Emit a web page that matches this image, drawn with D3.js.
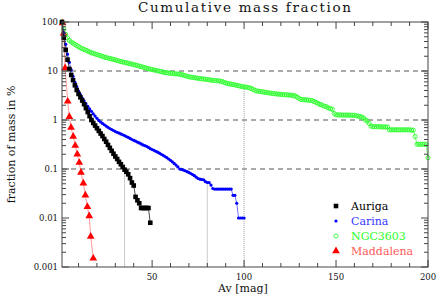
<!DOCTYPE html>
<meta charset="utf-8">
<script src="https://cdn.jsdelivr.net/npm/d3@7"></script>
<style>
body { margin: 0; background: #fff; }
text { font-family: "DejaVu Serif", serif; fill: #111; }
.grid { stroke: #555; stroke-width: 1; stroke-dasharray: 5,4; fill: none; }
.cut { stroke: #999; stroke-width: 1; stroke-dasharray: 1,1; fill: none; }
</style>
<body>
<script>

// fraction of mass (%) above Av, one value per magnitude starting at Av = 1
var auriga = [100,48,27,17,11,8.3,6.5,5.1,4.1,3.4,
  2.9,2.5,2.1,1.75,1.45,1.2,1.0,0.87,0.77,0.68,
  0.6,0.53,0.47,0.41,0.36,0.31,0.27,0.235,0.205,0.18,
  0.16,0.14,0.125,0.11,0.097,0.088,0.078,0.065,0.053,0.046,
  0.027,0.023,0.02,0.016,0.016,0.016,0.016,0.016,0.008];

var carina = [100,60,35,22,15,10.5,7.8,5.9,4.8,3.9,
  3.3,2.8,2.45,2.15,1.9,1.68,1.5,1.33,1.2,1.08,
  0.98,0.91,0.85,0.8,0.75,0.71,0.67,0.64,0.61,0.58,
  0.56,0.54,0.52,0.5,0.48,0.46,0.44,0.42,0.4,0.385,
  0.37,0.355,0.34,0.325,0.31,0.3,0.29,0.275,0.26,0.25,
  0.24,0.23,0.22,0.21,0.2,0.19,0.18,0.17,0.16,0.15,
  0.14,0.13,0.12,0.11,0.1,0.098,0.095,0.092,0.088,0.085,
  0.081,0.077,0.073,0.068,0.064,0.062,0.061,0.06,0.055,0.053,
  0.053,0.047,0.04,0.039,0.039,0.039,0.039,0.039,0.039,0.039,
  0.039,0.039,0.039,0.029,0.029,0.02,0.01,0.01,0.01,0.01];

var ngc3603 = [100,72,56,47,42,39,37,35,33,31.5,
  30,28.5,27.5,26.5,25.5,24.5,23.5,23,22.3,21.6,
  21,20.4,19.9,19.3,18.8,18.4,18,17.6,17.2,16.8,
  16.4,16,15.6,15.3,15,14.7,14.4,14.1,13.8,13.5,
  13.2,12.9,12.6,12.3,12,11.7,11.4,11.1,10.9,10.7,
  10.5,10.3,10.1,9.9,9.7,9.5,9.3,9.2,9.1,9.0,
  8.9,8.8,8.7,8.7,8.6,8.5,8.2,8.0,7.8,7.6,
  7.5,7.4,7.3,7.2,7.1,7.0,6.9,6.85,6.8,6.7,
  6.6,6.5,6.45,6.4,6.35,6.3,6.2,6.1,5.9,5.7,
  5.55,5.45,5.4,5.3,5.2,5.1,5.0,4.9,4.8,4.75,
  4.7,4.6,4.5,4.4,4.2,4.0,3.9,3.85,3.8,3.75,
  3.7,3.65,3.6,3.55,3.5,3.45,3.42,3.4,3.36,3.33,
  3.3,3.28,3.26,3.24,3.22,3.2,3.15,3.05,2.9,2.75,
  2.62,2.6,2.58,2.56,2.54,2.52,2.48,2.4,2.3,2.2,
  2.1,2.05,1.95,1.9,1.85,1.75,1.7,1.65,1.35,1.28,
  1.27,1.27,1.26,1.26,1.26,1.26,1.26,1.25,1.25,1.25,
  1.22,1.2,1.18,1.15,1.1,1.0,0.95,0.85,0.75,0.73,
  0.73,0.73,0.73,0.73,0.72,0.72,0.72,0.72,0.63,0.63,
  0.63,0.63,0.63,0.63,0.63,0.63,0.63,0.63,0.63,0.63,
  0.62,0.62,0.46,0.32,0.32,0.32,0.32,0.32,0.32,0.17];

// Maddalena is sampled at its own Av values
var maddalenaAv = [1.3,1.9,2.7,4.1,5.0,5.9,7.1,8.2,9.3,10.4,11.3,12.6,13.7,14.8,15.8,16.6,18.0];
var maddalena = [95,59,11.5,2.4,1.17,0.7,0.46,0.3,0.2,0.135,0.085,0.051,0.029,0.017,0.011,0.0042,0.0015];

// Av where each cloud keeps 99.9% of its mass (dotted lines)
var cutNames = ["Auriga", "Carina", "NGC3603"];
var cutAv = [35, 80, 100];

var yTicks = [100, 10, 1, 0.1, 0.01, 0.001];
var yTickLabels = ["100", "10", "1", "0.1", "0.01", "0.001"];
var dashedAt = [10, 1, 0.1];
var xTicks = [50, 100, 150, 200];

var width = 436, height = 297;
var margin = {top: 22, right: 8, bottom: 30, left: 62};

var x = d3.scaleLinear().domain([1, 200]).range([margin.left, width - margin.right]);
var y = d3.scaleLog().domain([0.001, 100]).range([height - margin.bottom, margin.top]);

var svg = d3.select("body").append("svg")
    .attr("width", width)
    .attr("height", height);

function toPoints(vals, avs) {
  return vals.map(function(v, i) { return {av: avs ? avs[i] : i + 1, f: v}; });
}

var series = [
  {name: "Auriga", pts: toPoints(auriga), color: "#000", line: "#000", text: "#000", mark: "square"},
  {name: "Carina", pts: toPoints(carina), color: "#0000ff", line: "#3333ff", text: "#3535ff", mark: "dot"},
  {name: "NGC3603", pts: toPoints(ngc3603), color: "#2cff2c", line: "#2cff2c", text: "#2cff2c", mark: "circle"},
  {name: "Maddalena", pts: toPoints(maddalena, maddalenaAv), color: "#ff0000", line: "#ff7070", text: "#ff5858", mark: "triangle"}
];

var x0 = x.range()[0], x1 = x.range()[1], y0 = y.range()[0], y1 = y.range()[1];

// dashed reference lines
svg.append("g").selectAll("line")
  .data(dashedAt)
  .enter().append("line")
  .attr("class", "grid")
  .attr("x1", x0).attr("x2", x1)
  .attr("y1", function(d) { return y(d); })
  .attr("y2", function(d) { return y(d); });

// dotted cut lines, from the curve down to the axis
svg.append("g").selectAll("line")
  .data(cutNames)
  .enter().append("line")
  .attr("class", "cut")
  .attr("x1", function(d, i) { return x(cutAv[i]); })
  .attr("x2", function(d, i) { return x(cutAv[i]); })
  .attr("y1", function(d, i) {
    var s = series.find(function(s) { return s.name == d; });
    var p = s.pts.find(function(p) { return p.av == cutAv[i]; });
    return y(p.f);
  })
  .attr("y2", y0);

var line = d3.line()
  .x(function(d) { return x(d.av); })
  .y(function(d) { return y(d.f); });

function drawMark(g, kind, color) {
  if (kind == "square") {
    g.append("rect").attr("x", -2.3).attr("y", -2.3).attr("width", 4.6).attr("height", 4.6).attr("fill", color);
  } else if (kind == "dot") {
    g.append("circle").attr("r", 1.6).attr("fill", color);
  } else if (kind == "circle") {
    g.append("circle").attr("r", 2.1).attr("fill", "none").attr("stroke", color).attr("stroke-width", 0.9);
  } else {
    g.append("path").attr("d", d3.symbol().type(d3.symbolTriangle).size(26)()).attr("fill", color);
  }
}

// draw Maddalena first so the others sit on top near the origin
[3, 2, 1, 0].forEach(function(k) {
  var s = series[k];
  svg.append("path")
    .datum(s.pts)
    .attr("d", line)
    .attr("fill", "none")
    .attr("stroke", s.line)
    .attr("stroke-width", 0.7);

  svg.append("g").selectAll("g")
    .data(s.pts)
    .enter().append("g")
    .attr("transform", function(d) { return "translate(" + x(d.av) + "," + y(d.f) + ")"; })
    .each(function() { drawMark(d3.select(this), s.mark, s.color); });
});

// frame
svg.append("rect")
  .attr("x", x0).attr("y", y1)
  .attr("width", x1 - x0).attr("height", y0 - y1)
  .attr("fill", "none").attr("stroke", "#444").attr("stroke-width", 1);

// x ticks (inward, top and bottom)
var xMinor = d3.range(10, 201, 10);
var tickG = svg.append("g").attr("stroke", "#444").attr("stroke-width", 1);
xMinor.forEach(function(t) {
  var len = (t % 50 == 0) ? 7 : 4;
  tickG.append("line").attr("x1", x(t)).attr("x2", x(t)).attr("y1", y0).attr("y2", y0 - len);
  tickG.append("line").attr("x1", x(t)).attr("x2", x(t)).attr("y1", y1).attr("y2", y1 + len);
});

// y ticks (inward, left and right)
var yAll = y.ticks();
yAll.forEach(function(t) {
  var major = yTicks.indexOf(t) >= 0;
  var len = major ? 7 : 4;
  tickG.append("line").attr("x1", x0).attr("x2", x0 + len).attr("y1", y(t)).attr("y2", y(t));
  tickG.append("line").attr("x1", x1).attr("x2", x1 - len).attr("y1", y(t)).attr("y2", y(t));
});

svg.append("g").selectAll("text")
  .data(xTicks)
  .enter().append("text")
  .attr("x", function(d) { return x(d); })
  .attr("y", y0 + 13)
  .attr("text-anchor", "middle")
  .style("font-size", "8.5px")
  .text(function(d) { return d; });

svg.append("g").selectAll("text")
  .data(yTicks)
  .enter().append("text")
  .attr("x", x0 - 4)
  .attr("y", function(d) { return y(d) + 3; })
  .attr("text-anchor", "end")
  .style("font-size", "8.5px")
  .text(function(d, i) { return yTickLabels[i]; });

// titles
svg.append("text")
  .attr("x", 138).attr("y", 12)
  .attr("textLength", 213)
  .attr("lengthAdjust", "spacing")
  .style("font-size", "13.5px")
  .text("Cumulative mass fraction");

svg.append("text")
  .attr("x", 243).attr("y", 292)
  .attr("text-anchor", "middle")
  .style("font-size", "11px")
  .text("Av [mag]");

svg.append("text")
  .attr("transform", "translate(15," + ((y0 + y1) / 2) + ") rotate(-90)")
  .attr("text-anchor", "middle")
  .style("font-size", "11px")
  .text("fraction of mass in %");

// legend
var legend = svg.append("g").selectAll("g")
  .data(series)
  .enter().append("g")
  .attr("transform", function(d, i) { return "translate(336," + (206 + i * 15) + ")"; });

legend.each(function(s) { drawMark(d3.select(this), s.mark, s.color); });

legend.append("text")
  .attr("x", 15).attr("y", 4)
  .style("font-size", "11px")
  .style("fill", function(s) { return s.text; })
  .text(function(s) { return s.name; });

</script>
</body>
